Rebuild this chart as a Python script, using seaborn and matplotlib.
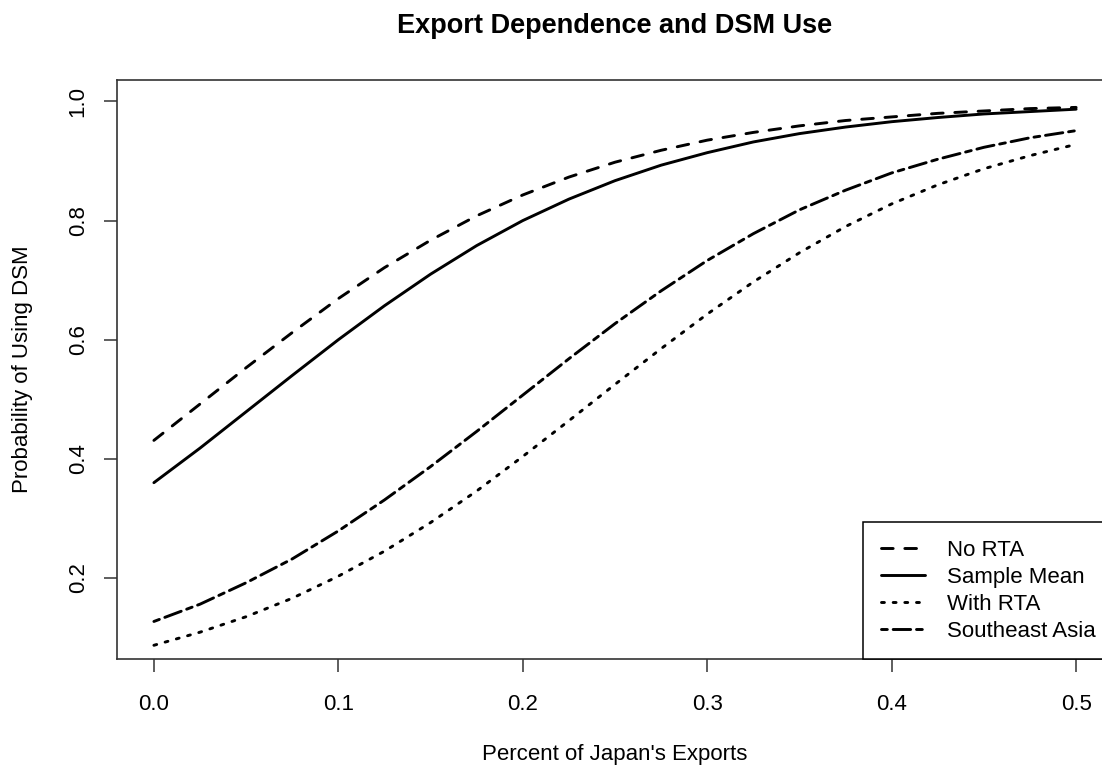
import pandas as pd
import seaborn as sns
import matplotlib.pyplot as plt

# values (x step 0.025)
x_share = [0.0, 0.025, 0.05, 0.075, 0.1, 0.125, 0.15, 0.175, 0.2, 0.225, 0.25,
           0.275, 0.3, 0.325, 0.35, 0.375, 0.4, 0.425, 0.45, 0.475, 0.5]
no_rta = [0.431, 0.492, 0.553, 0.612, 0.669, 0.721, 0.767, 0.808, 0.843, 0.873, 0.898,
          0.918, 0.935, 0.948, 0.959, 0.968, 0.974, 0.980, 0.984, 0.988, 0.990]
sample_mean = [0.360, 0.418, 0.479, 0.540, 0.600, 0.657, 0.710, 0.758, 0.800, 0.836, 0.867,
               0.893, 0.914, 0.932, 0.946, 0.957, 0.966, 0.973, 0.979, 0.983, 0.987]
with_rta = [0.087, 0.109, 0.135, 0.166, 0.203, 0.245, 0.293, 0.346, 0.404, 0.464, 0.525,
            0.585, 0.643, 0.697, 0.746, 0.790, 0.828, 0.860, 0.887, 0.909, 0.928]
se_asia = [0.127, 0.156, 0.192, 0.232, 0.279, 0.331, 0.387, 0.446, 0.507, 0.568, 0.627,
           0.682, 0.733, 0.778, 0.818, 0.851, 0.880, 0.903, 0.923, 0.939, 0.951]

series_names = ["No RTA", "Sample Mean", "With RTA", "Southeast Asia"]
series_vals = [no_rta, sample_mean, with_rta, se_asia]

frames = []
for name, vals in zip(series_names, series_vals):
    frames.append(pd.DataFrame({"x": x_share, "p": vals, "series": name}))
df = pd.concat(frames)

sns.set_style("ticks")
plt.rcParams['font.family'] = ['Liberation Sans', 'DejaVu Sans']
plt.rcParams['text.color'] = 'black'
plt.rcParams['axes.labelcolor'] = 'black'
plt.rcParams['xtick.color'] = 'black'
plt.rcParams['ytick.color'] = 'black'

fig = plt.figure(figsize=(11.02, 7.67), dpi=100)
ax = fig.add_axes([117 / 1102, (767 - 659) / 767, (1113 - 117) / 1102, (659 - 80) / 767])

line_styles = {"No RTA": (4, 4), "Sample Mean": "", "With RTA": (1, 3),
               "Southeast Asia": (2, 2, 6, 2)}
sns.lineplot(data=df, x="x", y="p", style="series", style_order=series_names,
             dashes=line_styles, color="black", linewidth=2.1, legend=False, ax=ax)
for ln in ax.lines:
    ln.set_dash_capstyle("round")
    ln.set_solid_capstyle("round")

ax.set_xlim(-0.02, 0.52)
ax.set_ylim(0.064, 1.036)
ax.set_xticks([0.0, 0.1, 0.2, 0.3, 0.4, 0.5])
ax.set_xticklabels(["0.0", "0.1", "0.2", "0.3", "0.4", "0.5"])
ax.set_yticks([0.2, 0.4, 0.6, 0.8, 1.0])
ax.set_yticklabels(["0.2", "0.4", "0.6", "0.8", "1.0"], rotation=90, va="center")

for side in ["left", "top", "bottom", "right"]:
    ax.spines[side].set_color("#333333")
    ax.spines[side].set_linewidth(1.2)
ax.tick_params(axis="both", length=9.4, width=1.1, color="#333333", labelsize=16)
ax.tick_params(axis="x", pad=16)
ax.tick_params(axis="y", pad=11)

ax.set_title("Export Dependence and DSM Use", fontsize=19.5, fontweight="bold", pad=34)
ax.set_xlabel("Percent of Japan's Exports", fontsize=16, labelpad=21)
ax.set_ylabel("Probability of Using DSM", fontsize=16, labelpad=25)

leg = ax.legend(handles=ax.lines, labels=series_names, loc="lower right",
                borderaxespad=0, fontsize=16, frameon=True, fancybox=False,
                framealpha=1, edgecolor="black", handlelength=1.98,
                handletextpad=1.0, labelspacing=0.27, borderpad=0.78)
leg.get_frame().set_linewidth(1.1)

fig.savefig("out.png", dpi=100)
